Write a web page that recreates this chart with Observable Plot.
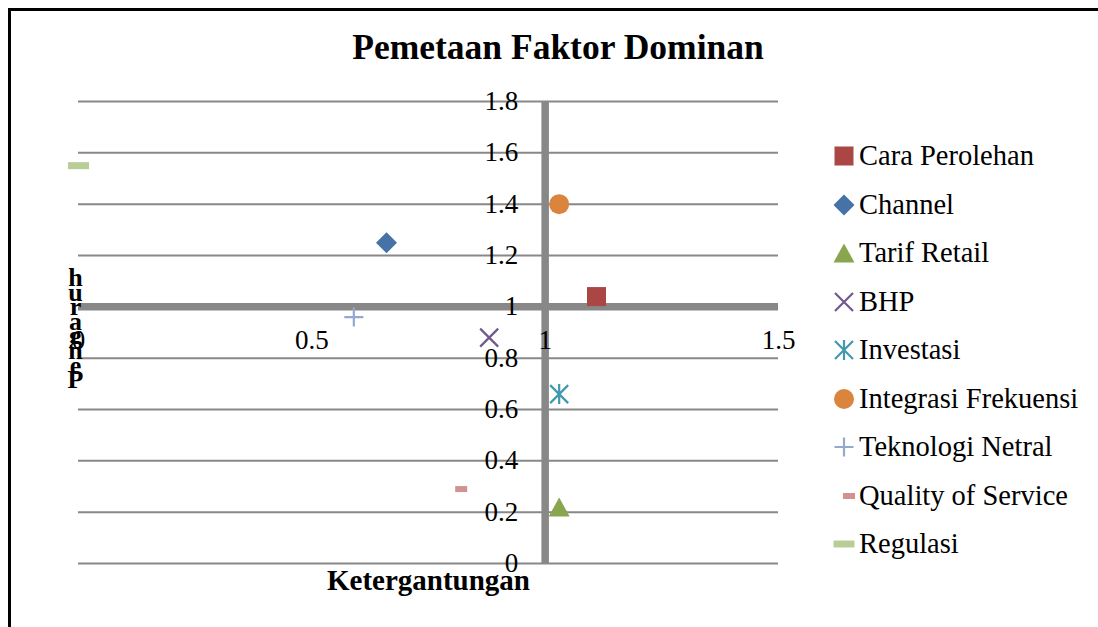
<!DOCTYPE html>
<html><head><meta charset="utf-8">
<script src="https://cdn.jsdelivr.net/npm/d3@7"></script>
<script src="https://cdn.jsdelivr.net/npm/@observablehq/plot@0.6"></script>
<style>
body{margin:0;background:#fff;}
#wrap{position:relative;width:1098px;height:627px;overflow:hidden;font-family:"Liberation Serif",serif;color:#000;}
#bt{position:absolute;left:8px;top:8px;width:1090px;height:3px;background:#000}
#bl{position:absolute;left:8px;top:8px;width:3px;height:619px;background:#000}
#title{position:absolute;left:0;width:1116px;top:27px;text-align:center;font-weight:bold;font-size:35.5px;line-height:40px;}
#chart{position:absolute;left:0;top:0}
.leg{position:absolute;left:830px;height:40px;display:flex;align-items:center;font-size:28.5px;white-space:nowrap;font-family:"Liberation Serif",serif;}
.leg svg{width:28px;height:28px;margin-right:1px;flex:none}
</style></head>
<body>
<div id="wrap">
  <div id="chart"></div>
  <div id="bt"></div><div id="bl"></div>
  <div id="title">Pemetaan Faktor Dominan</div>
  <div id="legend"></div>
</div>
<script>
const series = ["Cara Perolehan","Channel","Tarif Retail","BHP","Investasi","Integrasi Frekuensi","Teknologi Netral","Quality of Service","Regulasi"];
const xValues = [1.11, 0.66, 1.03, 0.88, 1.03, 1.03, 0.59, 0.82, 0.0];
const yValues = [1.04, 1.25, 0.22, 0.88, 0.66, 1.40, 0.96, 0.29, 1.55];
const colors = ["#AA4643","#4572A7","#89A54E","#71588F","#4198AF","#DB843D","#93A9CF","#D19392","#B9CD96"];
const yTicks = [0,0.2,0.4,0.6,0.8,1,1.2,1.4,1.6,1.8];
const xTicks = [0,0.5,1,1.5];
const yTickLabels = ["0","0.2","0.4","0.6","0.8","1","1.2","1.4","1.6","1.8"];
const xTickLabels = ["0","0.5","1","1.5"];
const xTitle = "Ketergantungan";
const yTitle = "Pengaruh";

// marker shapes (filled vs stroked)
const shapes = [
  {filled:true, draw(c){c.rect(-9.5,-9.5,19,19);}},
  {filled:true, draw(c){c.moveTo(0,-10.5);c.lineTo(10.5,0);c.lineTo(0,10.5);c.lineTo(-10.5,0);c.closePath();}},
  {filled:true, draw(c){c.moveTo(0,-9.5);c.lineTo(10.5,9.5);c.lineTo(-10.5,9.5);c.closePath();}},
  {filled:false, draw(c){c.moveTo(-9,-9);c.lineTo(9,9);c.moveTo(-9,9);c.lineTo(9,-9);}},
  {filled:false, draw(c){c.moveTo(-9,-9);c.lineTo(9,9);c.moveTo(-9,9);c.lineTo(9,-9);c.moveTo(0,-10);c.lineTo(0,10);}},
  {filled:true, draw(c){c.moveTo(10,0);c.arc(0,0,10,0,2*Math.PI);c.closePath();}},
  {filled:false, draw(c){c.moveTo(-9.5,0);c.lineTo(9.5,0);c.moveTo(0,-9.5);c.lineTo(0,9.5);}},
  {filled:true, draw(c){c.rect(-6,-3,12,6);}},
  {filled:true, draw(c){c.rect(-10.5,-3.5,21,7);}}
];

const idx = series.map((d,i)=>i);
const F = '"Liberation Serif", serif';

const marks = [
  Plot.ruleY(yTicks, {stroke:"#888888", strokeWidth:2}),
  Plot.ruleY([1], {stroke:"#888888", strokeWidth:7.5}),
  Plot.ruleX([1], {stroke:"#888888", strokeWidth:7.5}),
  Plot.text(yTicks, {x: () => 1, y: d => d, text: (d,i) => yTickLabels[i], textAnchor:"end", dx:-27, fontSize:27, fill:"#000"}),
  Plot.text(xTicks, {x: d => d, y: () => 1, text: (d,i) => xTickLabels[i], textAnchor:"middle", dy:34, fontSize:27, fill:"#000"}),
  Plot.text([xTitle], {frameAnchor:"bottom", dy:26, fontSize:29, fontWeight:"bold", fill:"#000"}),
  Plot.text([yTitle.split("").reverse().join("\n")], {frameAnchor:"left", dx:-3, fontSize:26, fontWeight:"bold", lineHeight:0.56, textAnchor:"middle", fill:"#000"})
];
idx.forEach(i => {
  const s = {draw: shapes[i].draw};
  marks.push(Plot.dot([i], {
    x: d => xValues[d], y: d => yValues[d], symbol: s, r: 5,
    fill: shapes[i].filled ? colors[i] : "none",
    stroke: shapes[i].filled ? "none" : colors[i],
    strokeWidth: 2.2
  }));
});

const chart = Plot.plot({
  width:1098, height:627,
  marginLeft:78, marginRight:320, marginTop:101, marginBottom:64,
  x:{domain:[0,1.5], axis:null},
  y:{domain:[0,1.8], axis:null},
  style:{fontFamily:F, background:"transparent", overflow:"visible"},
  marks
});
document.getElementById("chart").appendChild(chart);

// legend
const legend = document.getElementById("legend");
const legTop = 136, legStep = 48.5;
idx.forEach(i => {
  const row = document.createElement("div");
  row.className = "leg";
  row.style.top = (legTop + i*legStep) + "px";
  const p = d3.path();
  shapes[i].draw(p);
  const cx = i === 7 ? 19 : 14;
  const svg = `<svg viewBox="0 0 28 28"><path transform="translate(${cx},14)" d="${p.toString()}" fill="${shapes[i].filled?colors[i]:"none"}" stroke="${shapes[i].filled?"none":colors[i]}" stroke-width="2.2"/></svg>`;
  row.innerHTML = svg + `<span>${series[i]}</span>`;
  legend.appendChild(row);
});
</script>
</body></html>
